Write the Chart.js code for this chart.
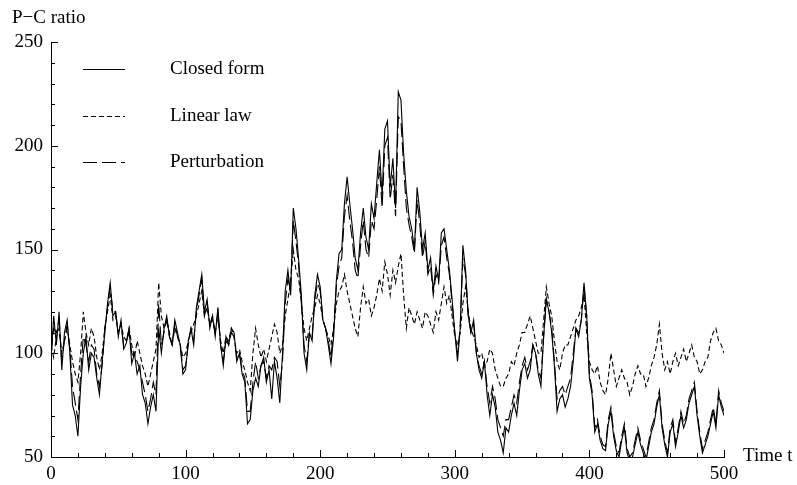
<!DOCTYPE html>
<html>
<head>
<meta charset="utf-8">
<script src="https://cdn.jsdelivr.net/npm/chart.js@4.4.1/dist/chart.umd.min.js"></script>
<style>
  body { margin: 0; background: #fff; }
</style>
</head>
<body>
<canvas id="ratioChart" width="797" height="485"></canvas>
<script>
var timeSteps = [
    0, 2, 4, 6, 8, 10, 12, 14, 16, 18, 20, 22, 24, 26, 28, 30, 32, 34, 36, 38,
    40, 42, 44, 46, 48, 50, 52, 54, 56, 58, 60, 62, 64, 66, 68, 70, 72, 74, 76, 78,
    80, 82, 84, 86, 88, 90, 92, 94, 96, 98, 100, 102, 104, 106, 108, 110, 112, 114, 116, 118,
    120, 122, 124, 126, 128, 130, 132, 134, 136, 138, 140, 142, 144, 146, 148, 150, 152, 154, 156, 158,
    160, 162, 164, 166, 168, 170, 172, 174, 176, 178, 180, 182, 184, 186, 188, 190, 192, 194, 196, 198,
    200, 202, 204, 206, 208, 210, 212, 214, 216, 218, 220, 222, 224, 226, 228, 230, 232, 234, 236, 238,
    240, 242, 244, 246, 248, 250, 252, 254, 256, 258, 260, 262, 264, 266, 268, 270, 272, 274, 276, 278,
    280, 282, 284, 286, 288, 290, 292, 294, 296, 298, 300, 302, 304, 306, 308, 310, 312, 314, 316, 318,
    320, 322, 324, 326, 328, 330, 332, 334, 336, 338, 340, 342, 344, 346, 348, 350, 352, 354, 356, 358,
    360, 362, 364, 366, 368, 370, 372, 374, 376, 378, 380, 382, 384, 386, 388, 390, 392, 394, 396, 398,
    400, 402, 404, 406, 408, 410, 412, 414, 416, 418, 420, 422, 424, 426, 428, 430, 432, 434, 436, 438,
    440, 442, 444, 446, 448, 450, 452, 454, 456, 458, 460, 462, 464, 466, 468, 470, 472, 474, 476, 478,
    480, 482, 484, 486, 488, 490, 492, 494, 496, 498, 500
];

var closedForm = [
    96, 118, 104, 120, 92, 110, 116, 100, 75, 70, 60, 84, 100, 108, 92, 100, 98, 88, 80, 96,
    110, 124, 134, 118, 120, 108, 116, 102, 105, 112, 95, 100, 90, 94, 80, 76, 66, 74, 80, 72,
    112, 100, 112, 118, 108, 104, 116, 110, 104, 90, 92, 106, 112, 104, 122, 130, 138, 120, 126, 112,
    118, 108, 122, 104, 94, 108, 104, 112, 110, 96, 100, 90, 86, 66, 68, 82, 88, 84, 94, 98,
    86, 92, 78, 96, 88, 76, 100, 130, 140, 128, 170, 160, 145, 128, 100, 92, 110, 106, 128, 138,
    132, 116, 112, 104, 95, 108, 135, 148, 150, 172, 185, 172, 160, 146, 140, 158, 170, 156, 150, 172,
    165, 182, 198, 176, 208, 212, 180, 194, 170, 226, 222, 196, 178, 166, 160, 150, 180, 168, 150, 158,
    140, 146, 130, 142, 135, 158, 160, 150, 140, 126, 110, 96, 112, 152, 140, 118, 110, 116, 100, 92,
    88, 96, 80, 70, 80, 74, 62, 58, 52, 64, 62, 70, 76, 70, 82, 92, 95, 88, 92, 104,
    100, 90, 84, 108, 126, 120, 110, 94, 72, 78, 80, 74, 78, 84, 96, 112, 108, 116, 134, 118,
    88, 80, 62, 66, 58, 54, 53, 66, 72, 60, 53, 50, 58, 64, 52, 48, 50, 56, 62, 56,
    52, 48, 55, 62, 66, 74, 80, 64, 56, 50, 62, 66, 55, 62, 70, 64, 68, 76, 80, 84,
    70, 60, 52, 56, 60, 66, 72, 64, 80, 74, 70
];

var linearLaw = [
    104, 98, 108, 112, 100, 106, 112, 104, 96, 90, 86, 100, 120, 110, 104, 112, 108, 98, 92, 100,
    112, 120, 128, 116, 118, 110, 114, 108, 106, 112, 104, 98, 106, 100, 94, 90, 84, 90, 96, 102,
    134, 118, 112, 116, 110, 104, 112, 108, 104, 98, 100, 106, 110, 114, 118, 124, 130, 118, 122, 114,
    116, 110, 118, 106, 100, 108, 106, 112, 108, 100, 102, 96, 92, 86, 82, 100, 112, 104, 98, 102,
    96, 102, 108, 114, 110, 100, 104, 118, 126, 134, 150, 140, 136, 124, 112, 106, 112, 118, 122, 128,
    124, 116, 112, 108, 104, 112, 124, 130, 132, 138, 130, 124, 118, 112, 108, 122, 132, 124, 126, 118,
    122, 128, 136, 130, 144, 138, 128, 140, 134, 142, 148, 128, 112, 122, 118, 114, 120, 116, 112, 120,
    118, 114, 110, 120, 116, 124, 132, 124, 128, 118, 108, 104, 110, 124, 132, 120, 112, 108, 104, 98,
    100, 94, 96, 102, 100, 92, 88, 84, 84, 88, 90, 96, 94, 100, 104, 110, 110, 114, 118, 112,
    106, 100, 100, 116, 132, 124, 118, 106, 96, 92, 100, 104, 104, 108, 112, 116, 118, 122, 128, 110,
    96, 92, 90, 94, 86, 82, 80, 88, 100, 92, 84, 88, 92, 88, 86, 80, 84, 90, 94, 90,
    90, 84, 88, 94, 98, 104, 114, 100, 92, 96, 90, 96, 100, 94, 98, 102, 96, 100, 104, 98,
    96, 90, 92, 96, 98, 106, 110, 112, 106, 104, 100
];

var perturbation = [
    100, 112, 110, 116, 96, 106, 114, 102, 84, 76, 68, 90, 108, 104, 96, 104, 102, 90, 84, 94,
    112, 122, 132, 120, 120, 110, 114, 104, 106, 110, 100, 98, 96, 92, 86, 80, 72, 78, 86, 80,
    124, 104, 110, 116, 108, 104, 114, 108, 104, 92, 94, 104, 112, 106, 120, 128, 136, 118, 124, 114,
    118, 110, 120, 104, 96, 106, 104, 110, 108, 98, 100, 92, 88, 72, 72, 86, 96, 88, 94, 96,
    88, 94, 92, 98, 96, 84, 96, 124, 136, 130, 164, 154, 142, 124, 104, 96, 110, 108, 126, 134,
    130, 116, 112, 106, 98, 112, 132, 142, 146, 166, 176, 164, 154, 140, 136, 152, 164, 150, 146, 164,
    160, 174, 190, 170, 200, 204, 174, 186, 166, 214, 212, 190, 170, 162, 156, 148, 174, 162, 146, 154,
    138, 142, 128, 138, 134, 152, 156, 146, 138, 124, 110, 100, 112, 146, 138, 118, 110, 114, 100, 94,
    90, 96, 84, 76, 84, 78, 68, 64, 60, 68, 68, 74, 80, 76, 86, 94, 98, 92, 96, 104,
    100, 92, 88, 108, 126, 120, 112, 96, 78, 82, 84, 80, 84, 88, 100, 112, 110, 116, 132, 118,
    90, 82, 64, 68, 60, 56, 55, 68, 74, 62, 55, 52, 60, 66, 54, 50, 52, 58, 64, 58,
    54, 50, 57, 64, 68, 76, 82, 66, 58, 52, 64, 68, 57, 64, 72, 66, 70, 78, 82, 86,
    72, 62, 54, 58, 62, 68, 74, 66, 82, 76, 72
];

var seriesNames = ["Closed form", "Linear law", "Perturbation"];
var seriesDashes = [[], [5, 3], [14, 5]];

var serif = "'Liberation Serif', 'Times New Roman', serif";

function toPoints(values) {
    return values.map(function (v, i) { return { x: timeSteps[i], y: v }; });
}

// inward tick marks, axis names and the little legend
var axisDecor = {
    id: 'axisDecor',
    afterDraw: function (chart) {
        var ctx = chart.ctx;
        var area = chart.chartArea;
        var xs = chart.scales.x;
        var ys = chart.scales.y;
        ctx.save();
        ctx.strokeStyle = '#000';
        ctx.lineWidth = 1;
        ctx.beginPath();
        xs.ticks.forEach(function (t) {
            var px = Math.round(xs.getPixelForValue(t.value)) + 0.5;
            var len = t.value % 100 === 0 ? 7 : 4;
            ctx.moveTo(px, area.bottom);
            ctx.lineTo(px, area.bottom - len);
        });
        ys.ticks.forEach(function (t) {
            var py = Math.round(ys.getPixelForValue(t.value)) + 0.5;
            var len = t.value % 50 === 0 ? 7 : 4;
            ctx.moveTo(area.left, py);
            ctx.lineTo(area.left + len, py);
        });
        ctx.stroke();

        ctx.fillStyle = '#000';
        ctx.font = '19px ' + serif;
        ctx.textBaseline = 'alphabetic';
        ctx.textAlign = 'left';
        ctx.fillText('P\u2212C ratio', 12, 23);
        ctx.fillText('Time t', 743, 461);

        var rows = [69, 116, 162];
        for (var i = 0; i < seriesNames.length; i++) {
            ctx.beginPath();
            ctx.setLineDash(seriesDashes[i]);
            ctx.moveTo(83, rows[i] + 0.5);
            ctx.lineTo(125, rows[i] + 0.5);
            ctx.stroke();
            ctx.setLineDash([]);
            ctx.textBaseline = 'middle';
            ctx.fillText(seriesNames[i], 170, rows[i]);
        }
        ctx.restore();
    }
};

var chart = new Chart(document.getElementById('ratioChart').getContext('2d'), {
    type: 'line',
    data: {
        datasets: seriesNames.map(function (name, i) {
            return {
                label: name,
                data: toPoints([closedForm, linearLaw, perturbation][i]),
                borderColor: '#000',
                borderWidth: 1.1,
                borderDash: seriesDashes[i],
                pointRadius: 0,
                tension: 0,
                fill: false
            };
        })
    },
    options: {
        responsive: false,
        animation: false,
        layout: { padding: { top: 42, right: 73, bottom: 0, left: 0 } },
        plugins: {
            legend: { display: false },
            tooltip: { enabled: false }
        },
        scales: {
            x: {
                type: 'linear',
                min: 0,
                max: 500,
                afterFit: function (scale) { scale.height = 28; },
                grid: { display: false, drawTicks: false },
                border: { display: true, color: '#000', width: 1 },
                ticks: {
                    stepSize: 20,
                    autoSkip: false,
                    maxRotation: 0,
                    padding: 6,
                    color: '#000',
                    font: { family: serif, size: 19 },
                    callback: function (v) { return v % 100 === 0 ? v : ''; }
                }
            },
            y: {
                min: 50,
                max: 250,
                afterFit: function (scale) { scale.width = 51; },
                grid: { display: false, drawTicks: false },
                border: { display: true, color: '#000', width: 1 },
                ticks: {
                    stepSize: 10,
                    autoSkip: false,
                    padding: 8,
                    color: '#000',
                    font: { family: serif, size: 19 },
                    callback: function (v) { return v % 50 === 0 ? v : ''; }
                }
            }
        }
    },
    plugins: [axisDecor]
});
</script>
</body>
</html>
